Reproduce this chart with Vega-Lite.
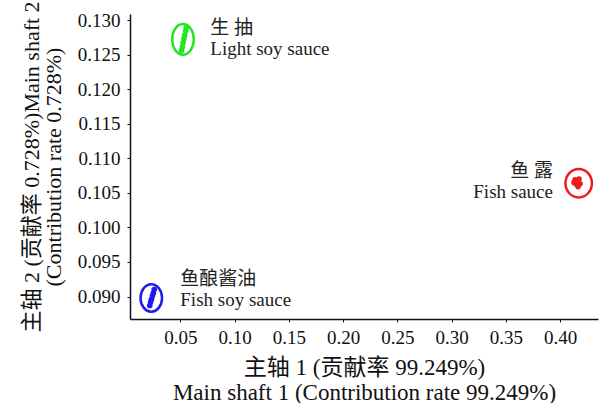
{
  "$schema": "https://vega.github.io/schema/vega-lite/v6.json",
  "width": 468,
  "height": 305,
  "autosize": {"type": "none"},
  "padding": {"left": 130, "top": 14, "right": 2, "bottom": 84},
  "background": "white",
  "config": {
    "view": {"stroke": null},
    "font": "'Liberation Serif', 'Noto Sans CJK SC', serif"
  },
  "datasets": {
    "samples": [
      {"group": "生抽", "pc1": 0.0512, "pc2": 0.1256},
      {"group": "生抽", "pc1": 0.0519, "pc2": 0.1261},
      {"group": "生抽", "pc1": 0.0526, "pc2": 0.1267},
      {"group": "生抽", "pc1": 0.0534, "pc2": 0.1273},
      {"group": "生抽", "pc1": 0.0541, "pc2": 0.1278},
      {"group": "生抽", "pc1": 0.0549, "pc2": 0.1284},
      {"group": "生抽", "pc1": 0.0556, "pc2": 0.1289},
      {"group": "鱼露", "pc1": 0.4138, "pc2": 0.1069},
      {"group": "鱼露", "pc1": 0.4175, "pc2": 0.1070},
      {"group": "鱼露", "pc1": 0.4147, "pc2": 0.1063},
      {"group": "鱼露", "pc1": 0.4184, "pc2": 0.1063},
      {"group": "鱼露", "pc1": 0.4166, "pc2": 0.1059},
      {"group": "鱼露", "pc1": 0.4129, "pc2": 0.1065},
      {"group": "鱼酿酱油", "pc1": 0.0219, "pc2": 0.0887},
      {"group": "鱼酿酱油", "pc1": 0.0227, "pc2": 0.0892},
      {"group": "鱼酿酱油", "pc1": 0.0235, "pc2": 0.0896},
      {"group": "鱼酿酱油", "pc1": 0.0244, "pc2": 0.0901},
      {"group": "鱼酿酱油", "pc1": 0.0252, "pc2": 0.0905},
      {"group": "鱼酿酱油", "pc1": 0.0260, "pc2": 0.0910}
    ],
    "groups": [
      {"group": "生抽", "pc1": 0.0525, "pc2": 0.1272, "label": "生 抽\nLight soy sauce"},
      {"group": "鱼露", "pc1": 0.4172, "pc2": 0.1064, "label": "鱼 露\nFish sauce"},
      {"group": "鱼酿酱油", "pc1": 0.0233, "pc2": 0.0898, "label": "鱼酿酱油\nFish soy sauce"}
    ]
  },
  "encoding": {
    "x": {
      "field": "pc1",
      "type": "quantitative",
      "scale": {"domain": [0.00367, 0.435], "nice": false, "zero": false},
      "axis": {
        "title": ["主轴 1 (贡献率 99.249%)", "Main shaft 1 (Contribution rate 99.249%)"],
        "values": [0.05, 0.1, 0.15, 0.2, 0.25, 0.3, 0.35, 0.4],
        "format": ".2f",
        "grid": false,
        "domainColor": "#111",
        "domainWidth": 1.5,
        "tickColor": "#111",
        "tickSize": 3,
        "labelFont": "'Liberation Serif', serif",
        "labelFontSize": 19,
        "labelColor": "#111",
        "labelPadding": 6,
        "labelFlush": false,
        "labelOverlap": false,
        "titleFont": "'Liberation Serif', 'Noto Sans CJK SC', serif",
        "titleFontSize": 23,
        "titleFontWeight": "normal",
        "titleColor": "#111",
        "titlePadding": 9,
        "titleLineHeight": 25
      }
    },
    "y": {
      "field": "pc2",
      "type": "quantitative",
      "scale": {"domain": [0.08675, 0.13087], "nice": false, "zero": false},
      "axis": {
        "title": ["主轴 2 (贡献率 0.728%)Main shaft 2", "(Contribution rate 0.728%)"],
        "values": [0.09, 0.095, 0.1, 0.105, 0.11, 0.115, 0.12, 0.125, 0.13],
        "format": ".3f",
        "grid": false,
        "domainColor": "#111",
        "domainWidth": 1.5,
        "tickColor": "#111",
        "tickSize": 3,
        "labelFont": "'Liberation Serif', serif",
        "labelFontSize": 19,
        "labelColor": "#111",
        "labelPadding": 7,
        "labelFlush": false,
        "labelOverlap": false,
        "titleFont": "'Liberation Serif', 'Noto Sans CJK SC', serif",
        "titleFontSize": 22,
        "titleFontWeight": "normal",
        "titleColor": "#111",
        "titlePadding": 12,
        "titleLineHeight": 22
      }
    }
  },
  "layer": [
    {
      "data": {"name": "groups"},
      "mark": {"type": "point", "filled": false, "size": 900, "strokeWidth": 2.5, "opacity": 1},
      "encoding": {
        "color": {
          "field": "group",
          "type": "nominal",
          "scale": {"domain": ["生抽", "鱼露", "鱼酿酱油"], "range": ["#22e622", "#ee1c1c", "#1c1cee"]},
          "legend": null
        },
        "shape": {
          "field": "group",
          "type": "nominal",
          "scale": {
            "domain": ["生抽", "鱼露", "鱼酿酱油"],
            "range": [
              "M0.717,0C0.717,0.562,0.396,1.017,0,1.017C-0.396,1.017,-0.717,0.562,-0.717,0C-0.717,-0.562,-0.396,-1.017,0,-1.017C0.396,-1.017,0.717,-0.562,0.717,0Z",
              "M0.883,0C0.883,0.525,0.488,0.95,0,0.95C-0.488,0.95,-0.883,0.525,-0.883,0C-0.883,-0.525,-0.488,-0.95,0,-0.95C0.488,-0.95,0.883,-0.525,0.883,0Z",
              "M0.717,0C0.717,0.506,0.396,0.917,0,0.917C-0.396,0.917,-0.717,0.506,-0.717,0C-0.717,-0.506,-0.396,-0.917,0,-0.917C0.396,-0.917,0.717,-0.506,0.717,0Z"
            ]
          },
          "legend": null
        }
      }
    },
    {
      "data": {"name": "samples"},
      "mark": {"type": "point", "filled": true, "shape": "circle", "size": 32, "opacity": 1},
      "encoding": {
        "color": {"field": "group", "type": "nominal", "legend": null}
      }
    },
    {
      "data": {"name": "groups"},
      "transform": [{"filter": "datum.group === '生抽'"}],
      "mark": {"type": "text", "align": "left", "baseline": "alphabetic", "dx": 27.3, "dy": -5.6, "fontSize": 19, "lineHeight": 21, "lineBreak": "\n", "color": "#222", "font": "'Liberation Serif', 'Noto Sans CJK SC', serif"},
      "encoding": {"text": {"field": "label"}}
    },
    {
      "data": {"name": "groups"},
      "transform": [{"filter": "datum.group === '鱼酿酱油'"}],
      "mark": {"type": "text", "align": "left", "baseline": "alphabetic", "dx": 29, "dy": -13.3, "fontSize": 19, "lineHeight": 21, "lineBreak": "\n", "color": "#222", "font": "'Liberation Serif', 'Noto Sans CJK SC', serif"},
      "encoding": {"text": {"field": "label"}}
    },
    {
      "data": {"name": "groups"},
      "transform": [{"filter": "datum.group === '鱼露'"}],
      "mark": {"type": "text", "align": "right", "baseline": "alphabetic", "dx": -25.7, "dy": -6.5, "fontSize": 19, "lineHeight": 21, "lineBreak": "\n", "color": "#222", "font": "'Liberation Serif', 'Noto Sans CJK SC', serif"},
      "encoding": {"text": {"field": "label"}}
    }
  ]
}
